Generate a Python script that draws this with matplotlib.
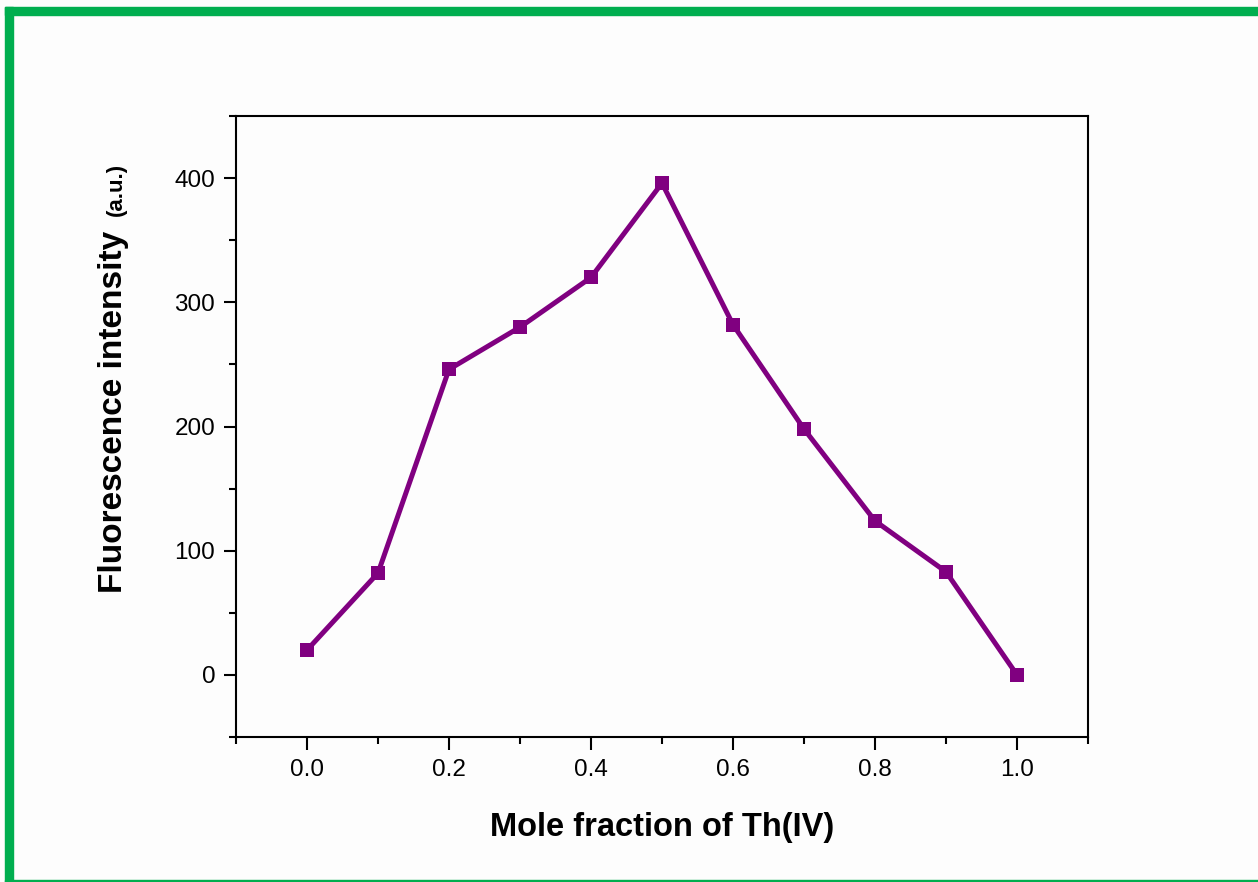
import matplotlib
matplotlib.use("Agg")
import matplotlib.pyplot as plt
from matplotlib.patches import Rectangle
from matplotlib.ticker import MultipleLocator

# mole fraction of Th(IV) and fluorescence intensity
mole_fraction = [0.0, 0.1, 0.2, 0.3, 0.4, 0.5, 0.6, 0.7, 0.8, 0.9, 1.0]
intensity = [20, 82, 246, 280, 320, 396, 282, 198, 124, 83, 0]

plt.rcParams['font.family'] = ['Liberation Sans', 'DejaVu Sans']

fig = plt.figure(figsize=(12.58, 8.82), dpi=100, facecolor='#fdfdfd')
ax = fig.add_axes([236/1258, 1 - 737/882, (1088-236)/1258, (737-116)/882])
ax.set_facecolor('#fdfdfd')

ax.plot(mole_fraction, intensity, color='#800080', lw=3.6,
        marker='s', markersize=10, markeredgewidth=0)

ax.set_xlim(-0.1, 1.1)
ax.set_ylim(-50, 450)
ax.xaxis.set_major_locator(MultipleLocator(0.2))
ax.xaxis.set_minor_locator(MultipleLocator(0.1))
ax.yaxis.set_major_locator(MultipleLocator(100))
ax.yaxis.set_minor_locator(MultipleLocator(50))
ax.xaxis.set_major_formatter(plt.FuncFormatter(lambda v, p: '%.1f' % v))

for s in ax.spines.values():
    s.set_linewidth(1.5)
ax.tick_params(which='both', direction='out', top=False, right=False, width=1.5)
ax.tick_params(which='major', length=9, labelsize=17.5)
ax.tick_params(which='minor', length=5)
ax.tick_params(axis='x', pad=7)
ax.tick_params(axis='y', pad=6)

ax.set_xlabel('Mole fraction of Th(IV)', fontsize=23.5, fontweight='bold', labelpad=22)

# y label: big text plus small "(a.u.)" on the same baseline
fig.text(122/1258, 1 - 593/882, 'Fluorescence intensity', rotation=90,
         rotation_mode='anchor', ha='left', va='baseline',
         fontsize=24, fontweight='bold')
fig.text(122/1258, 1 - 216/882, '(a.u.)', rotation=90,
         rotation_mode='anchor', ha='left', va='baseline',
         fontsize=16, fontweight='bold')

# green frame
green = '#00ae4f'
fig.patches.append(Rectangle((5/1258, 1 - 15/882), 1 - 5/1258, 8/882,
                             transform=fig.transFigure, color=green))
fig.patches.append(Rectangle((5/1258, 0), 8/1258, 1 - 7/882,
                             transform=fig.transFigure, color=green))
fig.patches.append(Rectangle((5/1258, 0), 1 - 5/1258, 2.5/882,
                             transform=fig.transFigure, color=green))

fig.savefig('out.png', dpi=100, facecolor=fig.get_facecolor())
